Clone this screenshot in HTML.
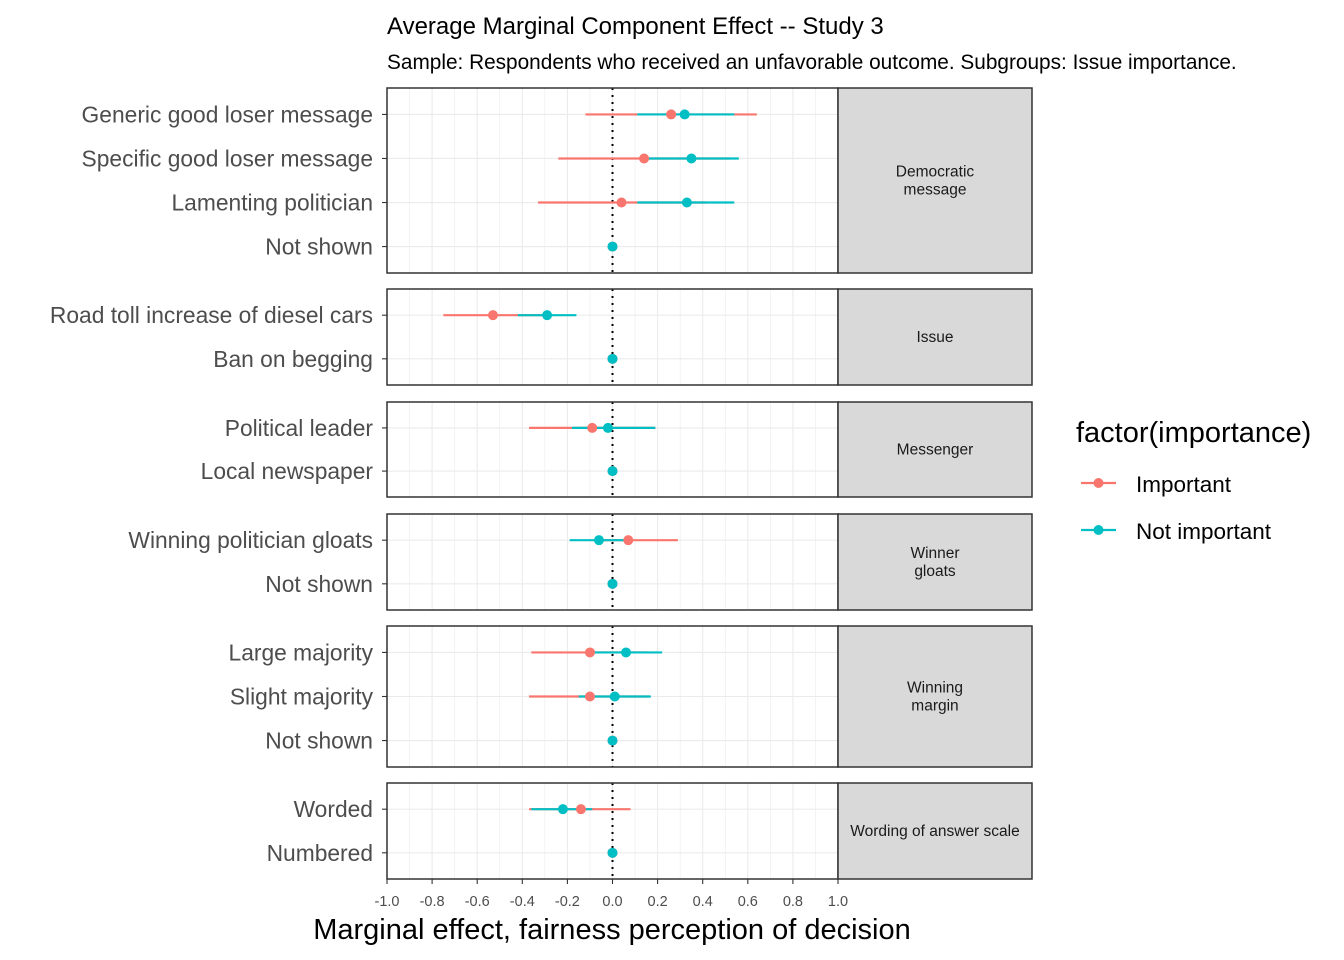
<!DOCTYPE html>
<html><head><meta charset="utf-8"><style>
body{margin:0;background:#fff;}
svg{display:block;font-family:"Liberation Sans",Arial,sans-serif;}
</style></head><body>
<svg id="c" width="1344" height="960" xmlns="http://www.w3.org/2000/svg"></svg>
<script>
// data
const groups = ["Democratic\nmessage","Issue","Messenger","Winner\ngloats","Winning\nmargin","Wording of answer scale"];
const levels = [
 ["Generic good loser message","Specific good loser message","Lamenting politician","Not shown"],
 ["Road toll increase of diesel cars","Ban on begging"],
 ["Political leader","Local newspaper"],
 ["Winning politician gloats","Not shown"],
 ["Large majority","Slight majority","Not shown"],
 ["Worded","Numbered"]
];
const impEst = [[0.26,0.14,0.04,0],[-0.53,0],[-0.09,0],[0.07,0],[-0.10,-0.10,0],[-0.14,0]];
const impLo  = [[-0.12,-0.24,-0.33,0],[-0.75,0],[-0.37,0],[-0.06,0],[-0.36,-0.37,0],[-0.37,0]];
const impHi  = [[0.64,0.52,0.42,0],[-0.31,0],[0.19,0],[0.29,0],[0.16,0.16,0],[0.08,0]];
const notEst = [[0.32,0.35,0.33,0],[-0.29,0],[-0.02,0],[-0.06,0],[0.06,0.01,0],[-0.22,0]];
const notLo  = [[0.11,0.14,0.11,0],[-0.42,0],[-0.18,0],[-0.19,0],[-0.10,-0.15,0],[-0.36,0]];
const notHi  = [[0.54,0.56,0.54,0],[-0.16,0],[0.19,0],[0.07,0],[0.22,0.17,0],[-0.09,0]];
const xTicks = [-1,-0.8,-0.6,-0.4,-0.2,0,0.2,0.4,0.6,0.8,1];

const panelTop=[88,289,402,514,626,783], panelBot=[273,385,497,610,767,879];
const L=387,R=838,S=1032;
const X=v=>L+(v+1)/2*(R-L);
const svg=document.getElementById('c');
const NS="http://www.w3.org/2000/svg";
function el(t,a,p){const e=document.createElementNS(NS,t);for(const k in a)e.setAttribute(k,a[k]);(p||svg).appendChild(e);return e;}
const RED="#F8766D",CY="#00BFC4";

let t=el('text',{x:387,y:34,'font-size':24,fill:'#000'});t.textContent="Average Marginal Component Effect -- Study 3";

t=el('text',{x:387,y:69,'font-size':20.8,fill:'#000'});t.textContent="Sample: Respondents who received an unfavorable outcome. Subgroups: Issue importance.";


groups.forEach((g,gi)=>{
  const top=panelTop[gi],bot=panelBot[gi],n=levels[gi].length;
  const g0=el('g',{});
  
  
  el('rect',{x:L,y:top,width:R-L,height:bot-top,fill:'#fff'},g0);
  for(let v=-1;v<=1.0001;v+=0.1){
    const major=Math.abs(Math.round(v*10))%2===0;
    el('line',{x1:X(v),x2:X(v),y1:top,y2:bot,stroke:'#ebebeb','stroke-width':major?1.1:0.6},g0);
  }
  const step=(bot-top)/(n+0.2);
  const Y=i=>top+step*(0.6+i);
  levels[gi].forEach((lab,i)=>{
    const y=Y(i);
    el('line',{x1:L,x2:R,y1:y,y2:y,stroke:'#ebebeb','stroke-width':1.1},g0);
    el('line',{x1:L-5,x2:L,y1:y,y2:y,stroke:'#333','stroke-width':1.1},g0);
    const tt=el('text',{x:373,y:y+8,'font-size':22.8,'text-anchor':'end',fill:'#4d4d4d'},g0);
    tt.textContent=lab;
    
    
  });
  el('line',{x1:X(0),x2:X(0),y1:top,y2:bot,stroke:'#000','stroke-width':2,'stroke-dasharray':'2,5'},g0);
  levels[gi].forEach((lab,i)=>{
    const y=Y(i);
    let l=el('line',{x1:X(impLo[gi][i]),x2:X(impHi[gi][i]),y1:y,y2:y,stroke:RED,'stroke-width':2.2},g0);
    
    l=el('line',{x1:X(notLo[gi][i]),x2:X(notHi[gi][i]),y1:y,y2:y,stroke:CY,'stroke-width':2.2},g0);
    
    let c=el('circle',{cx:X(impEst[gi][i]),cy:y,r:5,fill:RED},g0);
    
    c=el('circle',{cx:X(notEst[gi][i]),cy:y,r:5,fill:CY},g0);
    
  });
  el('rect',{x:L,y:top,width:R-L,height:bot-top,fill:'none',stroke:'#333','stroke-width':1.5},g0);
  const st=el('rect',{x:R,y:top,width:S-R,height:bot-top,fill:'#d9d9d9',stroke:'#333','stroke-width':1.5},g0);
  
  const lines=g.split("\n"),mid=(top+bot)/2;
  lines.forEach((s,k)=>{
    const tx=el('text',{x:(R+S)/2,y:mid+5+(k-(lines.length-1)/2)*18,'font-size':15.5,'text-anchor':'middle',fill:'#1a1a1a'},g0);
    tx.textContent=s;
    
    
  });
});
xTicks.forEach(v=>{
  el('line',{x1:X(v),x2:X(v),y1:879,y2:884,stroke:'#333','stroke-width':1.1});
  const tt=el('text',{x:X(v),y:906,'font-size':14.5,'text-anchor':'middle',fill:'#4d4d4d'});
  tt.textContent=v.toFixed(1);
  
  
});
t=el('text',{x:612,y:939,'font-size':29,'text-anchor':'middle',fill:'#000'});t.textContent="Marginal effect, fairness perception of decision";

t=el('text',{x:1076,y:442,'font-size':29,fill:'#000'});t.textContent="factor(importance)";

[["Important",RED,483],["Not important",CY,530]].forEach(([lab,col,y])=>{
  const lg=el('g',{});
  
  
  el('line',{x1:1081,x2:1116,y1:y,y2:y,stroke:col,'stroke-width':2.2},lg);
  el('circle',{cx:1098.5,cy:y,r:5,fill:col},lg);
  const tt=el('text',{x:1136,y:y+9,'font-size':22.5,fill:'#000'},lg);tt.textContent=lab;
});
</script>
</body></html>
